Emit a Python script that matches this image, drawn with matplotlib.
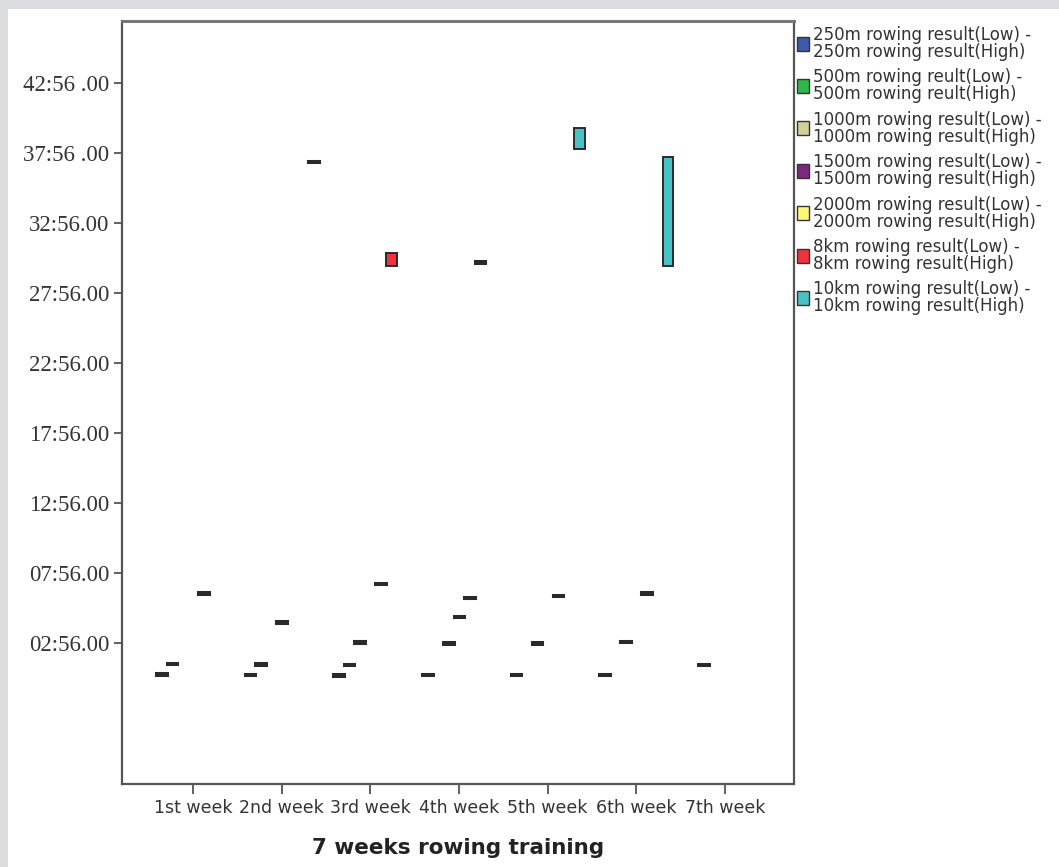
import numpy as np
import matplotlib
matplotlib.use('Agg')
import matplotlib.pyplot as plt
from matplotlib.patches import Rectangle

# data (times in seconds)
weeks = ['1st week', '2nd week', '3rd week', '4th week', '5th week', '6th week', '7th week']
series = ['250m rowing result(Low) -\n250m rowing result(High)',
          '500m rowing reult(Low) -\n500m rowing reult(High)',
          '1000m rowing result(Low) -\n1000m rowing result(High)',
          '1500m rowing result(Low) -\n1500m rowing result(High)',
          '2000m rowing result(Low) -\n2000m rowing result(High)',
          '8km rowing result(Low) -\n8km rowing result(High)',
          '10km rowing result(Low) -\n10km rowing result(High)']
colors = ['#3E58AC', '#2EB848', '#D3CE97', '#7C287D', '#FBF873', '#EF3338', '#48C2C5']

nan = np.nan
low_250 = [40, 38, 36, 38, 38, 38, nan]
high_250 = [46, 44, 42, 44, 44, 44, nan]
low_500 = [85, 82, 79, nan, nan, nan, 81]
high_500 = [91, 88, 85, nan, nan, nan, 87]
low_1000 = [nan, nan, 177, 172, 173, 180, nan]
high_1000 = [nan, nan, 183, 178, 179, 186, nan]
low_1500 = [nan, 263, nan, 286, nan, nan, nan]
high_1500 = [nan, 269, nan, 292, nan, nan, nan]
low_2000 = [387, nan, 428, 368, 375, 387, nan]
high_2000 = [393, nan, 434, 374, 381, 393, nan]
low_8k = [nan, nan, 1790, 1806, nan, nan, nan]
high_8k = [nan, nan, 1845, 1812, nan, nan, nan]
low_10k = [nan, 2235, nan, nan, 2291, 1792, nan]
high_10k = [nan, 2241, nan, nan, 2381, 2259, nan]

lows = [low_250, low_500, low_1000, low_1500, low_2000, low_8k, low_10k]
highs = [high_250, high_500, high_1000, high_1500, high_2000, high_8k, high_10k]

ytick_vals = [176, 476, 776, 1076, 1376, 1676, 1976, 2276, 2576]
ytick_labels = ['02:56.00', '07:56.00', '12:56.00', '17:56.00', '22:56.00',
                '27:56.00', '32:56.00', '37:56 .00', '42:56 .00']

W, H = 1059, 867
fig = plt.figure(figsize=(W / 100, H / 100), dpi=100, facecolor='#dcdde0')
# white panel behind everything
fig.patches.append(Rectangle((8 / W, 0), 1 - 8 / W, 1 - 9 / H, transform=fig.transFigure,
                             facecolor='white', edgecolor='none', zorder=-5))

ax = fig.add_axes([122 / W, 1 - 784 / H, (794 - 122) / W, (784 - 21) / H])
ax.set_facecolor('white')

x = np.arange(1, len(weeks) + 1)
slot = 0.119
for k in range(len(series)):
    lo = np.array(lows[k], dtype=float)
    hi = np.array(highs[k], dtype=float)
    m = ~np.isnan(lo)
    # near-zero ranges show as dark dashes, real ranges keep a thin outline
    lw = np.where(hi[m] - lo[m] < 20, 2.2, 1.4)
    ax.bar(x[m] + (k - 3) * slot, hi[m] - lo[m], bottom=lo[m], width=0.12,
           color=colors[k], edgecolor='#2a2a2a', linewidth=lw, zorder=3)

ax.set_xlim(0.20, 7.78)
ax.set_ylim(-429, 2841)
ax.set_xticks(x)
ax.set_xticklabels(weeks, fontsize=12.5, color='#333333', family='DejaVu Sans')
ax.set_yticks(ytick_vals)
ax.set_yticklabels(ytick_labels, fontsize=16.5, color='#333333', family='Liberation Serif')
ax.tick_params(axis='y', length=6, width=1.2, color='#444444', pad=3)
ax.tick_params(axis='x', length=7, width=1.2, color='#444444', pad=4)
for s in ax.spines.values():
    s.set_color('#555555')
    s.set_linewidth(1.6)
ax.spines['top'].set_linewidth(2.2)
ax.spines['top'].set_color('#777777')

fig.text(458 / W, 1 - 848 / H, '7 weeks rowing training', ha='center', va='center',
         fontsize=15.5, fontweight='bold', color='#222222', family='DejaVu Sans')

# legend drawn by hand at the right side
for k in range(len(series)):
    cy = 43.5 + 42.4 * k
    fig.patches.append(Rectangle((797 / W, 1 - (cy + 7) / H), 12 / W, 14 / H,
                                 transform=fig.transFigure, facecolor=colors[k],
                                 edgecolor='#333333', linewidth=1.0, zorder=3))
    fig.text(813 / W, 1 - cy / H, series[k], ha='left', va='center', fontsize=12,
             color='#333333', family='DejaVu Sans', linespacing=0.92)

fig.savefig('out.png', dpi=100, facecolor=fig.get_facecolor())
